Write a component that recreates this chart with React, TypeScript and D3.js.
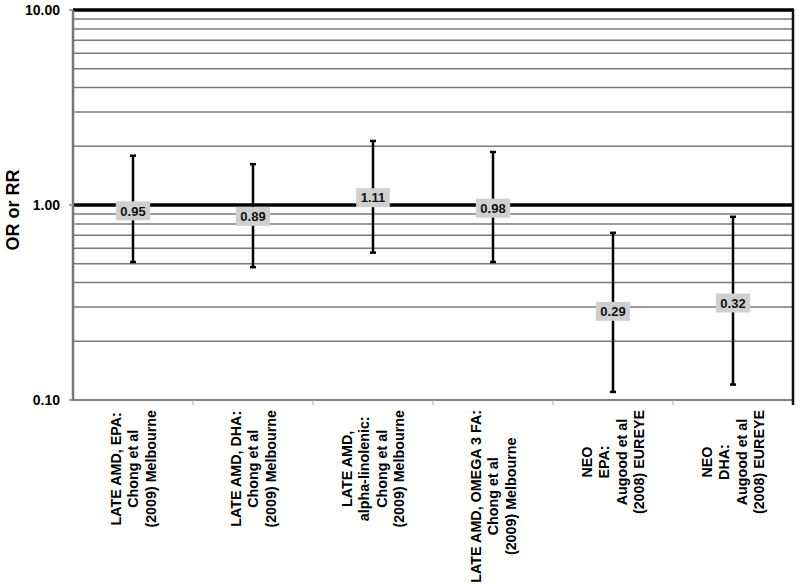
import React, { useEffect, useRef } from "react";
import * as d3 from "d3";

const categoryLines: string[][] = [
  ["LATE AMD, EPA:", "Chong et al", "(2009) Melbourne"],
  ["LATE AMD, DHA:", "Chong et al", "(2009) Melbourne"],
  ["LATE AMD,", "alpha-linolenic:", "Chong et al", "(2009) Melbourne"],
  ["LATE AMD, OMEGA 3 FA:", "Chong et al", "(2009) Melbourne"],
  ["NEO", "EPA:", "Augood et al", "(2008) EUREYE"],
  ["NEO", "DHA:", "Augood et al", "(2008) EUREYE"],
];
const estimates = [0.95, 0.89, 1.11, 0.98, 0.29, 0.32];
const lowerCI = [0.51, 0.48, 0.57, 0.51, 0.11, 0.12];
const upperCI = [1.79, 1.62, 2.13, 1.87, 0.72, 0.87];
const majorTicks = [0.1, 1, 10];
const yLabel = "OR or RR";

const W = 800;
const H = 588;
const FONT = "'Liberation Sans', Arial, sans-serif";

export default function App() {
  const ref = useRef<SVGSVGElement>(null);
  useEffect(() => {
    const svg = d3.select(ref.current);
    svg.selectAll("*").remove();
    const left = 73, right = 793, top = 10, bottom = 400;
    const ids = categoryLines.map((_, i) => String(i));
    const x = d3.scaleBand().domain(ids).range([left, right]);
    const y = d3.scaleLog().domain([0.1, 10]).range([bottom, top]);

    // minor gridlines
    const minors: number[] = [];
    [0.1, 1].forEach((dec) => {
      for (let k = 2; k <= 9; k++) minors.push(dec * k);
    });
    svg.append("g").selectAll("line").data(minors).join("line")
      .attr("x1", left).attr("x2", right)
      .attr("y1", (d) => y(d)).attr("y2", (d) => y(d))
      .attr("stroke", "#7a7a7a").attr("stroke-width", 1.5);

    // x axis (bottom)
    svg.append("line").attr("x1", left).attr("x2", right)
      .attr("y1", bottom).attr("y2", bottom)
      .attr("stroke", "#808080").attr("stroke-width", 2);
    // category boundary ticks
    const bounds = ids.slice(1).map((id) => x(id)!);
    svg.append("g").selectAll("line").data(bounds).join("line")
      .attr("x1", (d) => d).attr("x2", (d) => d)
      .attr("y1", bottom).attr("y2", bottom + 5)
      .attr("stroke", "#b0b0b0").attr("stroke-width", 1);

    // major lines at 1 and 10
    svg.append("g").selectAll("line").data([1, 10]).join("line")
      .attr("x1", left).attr("x2", right)
      .attr("y1", (d) => y(d)).attr("y2", (d) => y(d))
      .attr("stroke", "#000").attr("stroke-width", 3.5);

    // left axis
    svg.append("line").attr("x1", left).attr("x2", left)
      .attr("y1", top).attr("y2", bottom + 1)
      .attr("stroke", "#777").attr("stroke-width", 2.5);
    svg.append("g").selectAll("line").data(majorTicks).join("line")
      .attr("x1", left - 4).attr("x2", left)
      .attr("y1", (d) => y(d)).attr("y2", (d) => y(d))
      .attr("stroke", "#888").attr("stroke-width", 1.5);
    // right border
    svg.append("line").attr("x1", right).attr("x2", right)
      .attr("y1", top - 1.5).attr("y2", bottom + 5)
      .attr("stroke", "#111").attr("stroke-width", 2.5);

    // y tick labels
    svg.append("g").selectAll("text").data(majorTicks).join("text")
      .attr("x", left - 13).attr("y", (d) => y(d))
      .attr("dy", "0.36em").attr("text-anchor", "end")
      .attr("font-family", FONT).attr("font-weight", "bold").attr("font-size", 14)
      .text((d) => d3.format(".2f")(d));

    // y axis label
    svg.append("text")
      .attr("transform", `translate(19,${(top + bottom) / 2 + 5}) rotate(-90)`)
      .attr("text-anchor", "middle")
      .attr("font-family", FONT).attr("font-weight", "bold").attr("font-size", 18)
      .text(yLabel);

    // error bars
    const g = svg.append("g");
    estimates.forEach((est, i) => {
      const cx = x(String(i))! + x.bandwidth() / 2;
      g.append("line").attr("x1", cx).attr("x2", cx)
        .attr("y1", y(upperCI[i])).attr("y2", y(lowerCI[i]))
        .attr("stroke", "#000").attr("stroke-width", 2.5);
      [upperCI[i], lowerCI[i]].forEach((v) => {
        g.append("line").attr("x1", cx - 3).attr("x2", cx + 3)
          .attr("y1", y(v)).attr("y2", y(v))
          .attr("stroke", "#000").attr("stroke-width", 2.5);
      });
      const lg = g.append("g").attr("transform", `translate(${cx},${y(est) + 1.5})`);
      const rect = lg.append("rect").attr("fill", "#cfcfcf");
      const t = lg.append("text").attr("text-anchor", "middle").attr("dy", "0.36em")
        .attr("font-family", FONT).attr("font-weight", "bold").attr("font-size", 13)
        .attr("fill", "#111")
        .text(d3.format(".2f")(est));
      const tw = (t.node() as SVGTextElement).getComputedTextLength();
      rect.attr("x", -tw / 2 - 4.5).attr("width", tw + 9).attr("y", -9.5).attr("height", 19);
    });

    // category labels
    categoryLines.forEach((lines, i) => {
      const cx = x(String(i))! + x.bandwidth() / 2;
      const cg = svg.append("g");
      const texts = lines.map((ln, j) =>
        cg.append("text").attr("text-anchor", "middle")
          .attr("font-family", FONT).attr("font-weight", "bold").attr("font-size", 14.3)
          .attr("x", 0)
          .attr("y", (j - (lines.length - 1) / 2) * 17.5 + 5)
          .text(ln)
      );
      const maxW = d3.max(texts, (t) => (t.node() as SVGTextElement).getComputedTextLength()) || 0;
      cg.attr("transform", `translate(${cx},${410 + maxW / 2}) rotate(-90)`);
    });
  }, []);
  return (
    <svg ref={ref} width={W} height={H}
      style={{ position: "absolute", left: 0, top: 0, background: "#fff" }} />
  );
}
